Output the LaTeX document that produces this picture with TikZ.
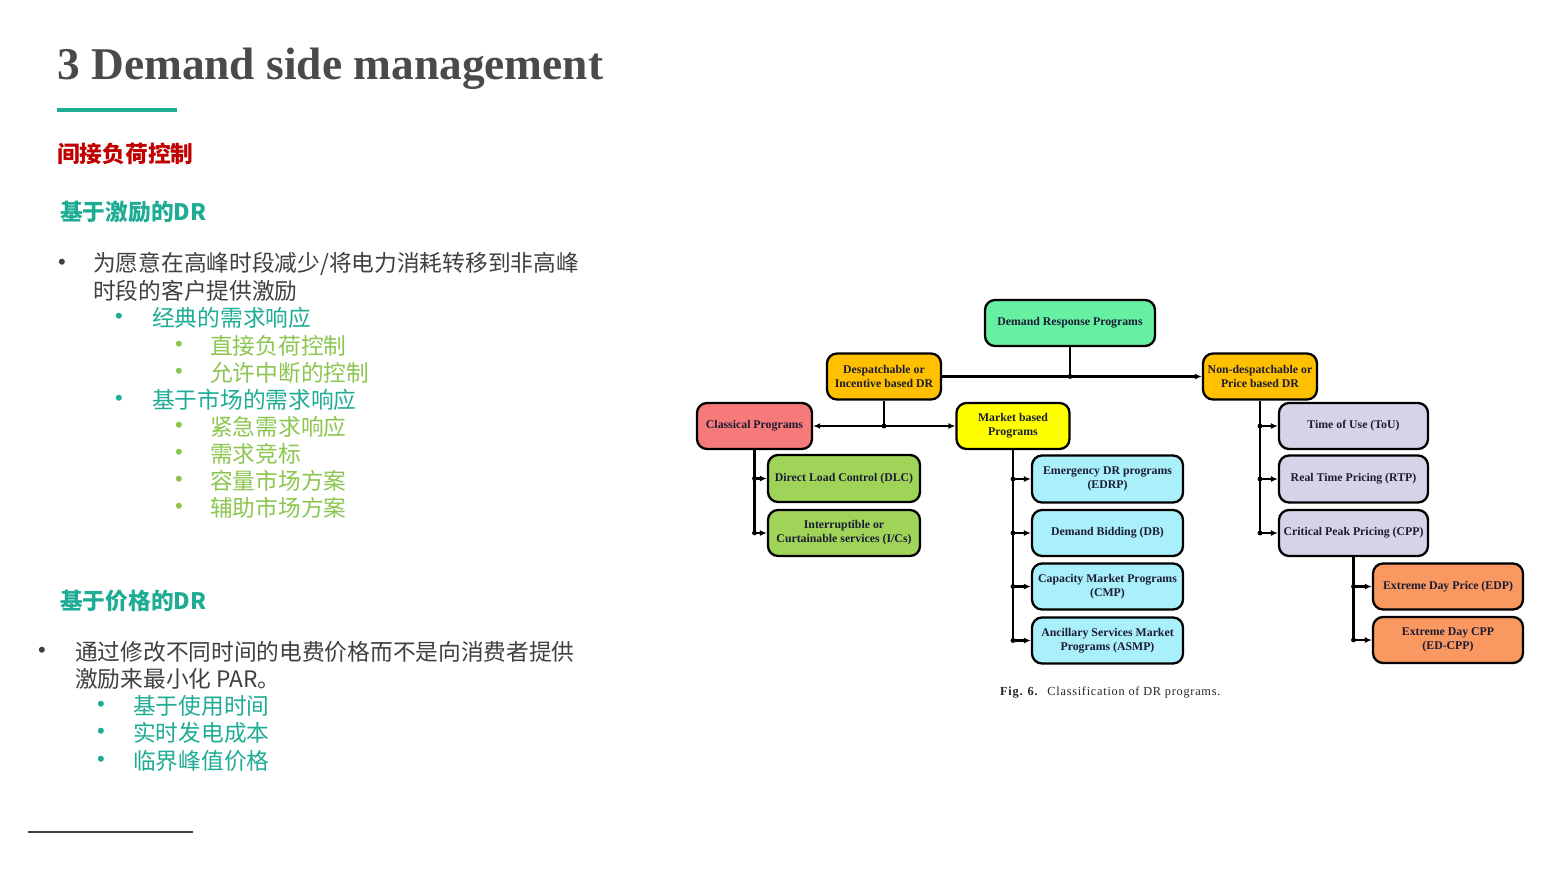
\documentclass[tikz,border=0pt]{standalone}
\usepackage{fontspec}
\setmainfont{Liberation Serif}
\newfontfamily\cjk{Noto Sans CJK SC}
\newfontfamily\bulfont{Liberation Sans}
\newfontfamily\capfont[LetterSpace=6]{Liberation Serif}
\usetikzlibrary{arrows.meta}
\definecolor{titlegray}{RGB}{74,74,74}
\definecolor{bodygray}{RGB}{64,64,64}
\definecolor{darkred}{RGB}{192,0,0}
\definecolor{tealc}{RGB}{30,172,148}
\definecolor{lgreen}{RGB}{140,198,80}
\definecolor{mint}{RGB}{102,240,162}
\definecolor{amber}{RGB}{255,192,0}
\definecolor{salmon}{RGB}{247,122,122}
\definecolor{yel}{RGB}{255,255,0}
\definecolor{olive}{RGB}{160,212,88}
\definecolor{cyanl}{RGB}{170,240,250}
\definecolor{lav}{RGB}{216,210,232}
\definecolor{orangel}{RGB}{249,152,96}
\definecolor{boxtext}{RGB}{28,28,52}
\begin{document}
\begin{tikzpicture}[x=1pt,y=-1pt,
  box/.style={draw=black, line width=2.3pt, rounded corners=10pt, align=center,
    inner sep=2pt, text=boxtext, font=\fontsize{11.8}{14}\selectfont\bfseries},
  conn/.style={line width=2.1pt, draw=black},
  arr/.style={conn, -{Latex[length=7pt,width=6pt]}},
  darr/.style={conn, {Latex[length=7pt,width=6pt]}-{Latex[length=7pt,width=6pt]}},
  txt/.style={anchor=west, inner sep=0pt, font=\cjk\fontsize{22.7}{28}\selectfont},
  head/.style={txt, font=\cjk\fontsize{22.7}{28}\selectfont\bfseries},
  bul/.style={anchor=center, inner sep=0pt, font=\bulfont\fontsize{22}{24}\selectfont}
]
\useasboundingbox (0,0) rectangle (1560,878);
\fill[white] (0,0) rectangle (1560,878);

% ---- title ----
\node[anchor=base west, inner sep=0pt, text=titlegray,
  font=\fontsize{45.4}{50}\selectfont\bfseries] (title) at (57,79) {3 Demand side management};
\fill[tealc] (57,108) rectangle (177,112);

% ---- left text ----
\node[head, text=darkred] (h1) at (57,154) {间接负荷控制};
\node[head, text=tealc] (h2) at (60,212) {基于激励的DR};

\node[bul, text=bodygray] (b1) at (62,264) {•};
\node[txt, text=bodygray] (t1) at (93,264) {为愿意在高峰时段减少/将电力消耗转移到非高峰};
\node[txt, text=bodygray] (t1b) at (93,291) {时段的客户提供激励};

\node[bul, text=tealc] (b2) at (119,318) {•};
\node[txt, text=tealc] (t2) at (152,318) {经典的需求响应};
\node[bul, text=lgreen] (b3) at (179,346) {•};
\node[txt, text=lgreen] (t3) at (210,346) {直接负荷控制};
\node[bul, text=lgreen] (b4) at (179,373) {•};
\node[txt, text=lgreen] (t4) at (210,373) {允许中断的控制};
\node[bul, text=tealc] (b5) at (119,400) {•};
\node[txt, text=tealc] (t5) at (152,400) {基于市场的需求响应};
\node[bul, text=lgreen] (b6) at (179,427) {•};
\node[txt, text=lgreen] (t6) at (210,427) {紧急需求响应};
\node[bul, text=lgreen] (b7) at (179,454) {•};
\node[txt, text=lgreen] (t7) at (210,454) {需求竞标};
\node[bul, text=lgreen] (b8) at (179,481) {•};
\node[txt, text=lgreen] (t8) at (210,481) {容量市场方案};
\node[bul, text=lgreen] (b9) at (179,508) {•};
\node[txt, text=lgreen] (t9) at (210,508) {辅助市场方案};

\node[head, text=tealc] (h3) at (60,601) {基于价格的DR};
\node[bul, text=bodygray] (b10) at (42,652) {•};
\node[txt, text=bodygray] (t10) at (75,652) {通过修改不同时间的电费价格而不是向消费者提供};
\node[txt, text=bodygray] (t10b) at (75,679) {激励来最小化 PAR。};
\node[bul, text=tealc] (b11) at (101,706) {•};
\node[txt, text=tealc] (t11) at (133,706) {基于使用时间};
\node[bul, text=tealc] (b12) at (101,733) {•};
\node[txt, text=tealc] (t12) at (133,733) {实时发电成本};
\node[bul, text=tealc] (b13) at (101,761) {•};
\node[txt, text=tealc] (t13) at (133,761) {临界峰值价格};

\draw[line width=2pt, draw=bodygray] (28,832) -- (193,832);

% ---- diagram ----
\node[box, fill=mint, minimum width=170pt, minimum height=46pt] (drp) at (1070,323) {Demand Response Programs};
\node[box, fill=amber, minimum width=114pt, minimum height=46pt] (desp) at (884,376.5) {Despatchable or\\Incentive based DR};
\node[box, fill=amber, minimum width=114pt, minimum height=46pt] (nd) at (1260,376.5) {Non-despatchable or\\Price based DR};
\node[box, fill=salmon, minimum width=115pt, minimum height=46pt] (cls) at (754.5,426) {Classical Programs};
\node[box, fill=yel, minimum width=113pt, minimum height=46pt] (mkt) at (1013,426) {Market based\\Programs};

\node[box, fill=olive, minimum width=152pt, minimum height=47pt] (dlc) at (844,478.5) {Direct Load Control (DLC)};
\node[box, fill=olive, minimum width=152pt, minimum height=46pt] (ics) at (844,533) {Interruptible or\\Curtainable services (I/Cs)};

\node[box, fill=cyanl, minimum width=151pt, minimum height=47pt] (edrp) at (1107.5,479) {Emergency DR programs\\(EDRP)};
\node[box, fill=cyanl, minimum width=151pt, minimum height=46pt] (db) at (1107.5,533) {Demand Bidding (DB)};
\node[box, fill=cyanl, minimum width=151pt, minimum height=46pt] (cmp) at (1107.5,586.5) {Capacity Market Programs\\(CMP)};
\node[box, fill=cyanl, minimum width=151pt, minimum height=46pt] (asmp) at (1107.5,640.5) {Ancillary Services Market\\Programs (ASMP)};

\node[box, fill=lav, minimum width=149pt, minimum height=46pt] (tou) at (1353.5,426) {Time of Use (ToU)};
\node[box, fill=lav, minimum width=149pt, minimum height=47pt] (rtp) at (1353.5,479) {Real Time Pricing (RTP)};
\node[box, fill=lav, minimum width=149pt, minimum height=46pt] (cpp) at (1353.5,533) {Critical Peak Pricing (CPP)};

\node[box, fill=orangel, minimum width=150pt, minimum height=46pt] (edp) at (1448,586.5) {Extreme Day Price (EDP)};
\node[box, fill=orangel, minimum width=150pt, minimum height=46pt] (edcpp) at (1448,640) {Extreme Day CPP\\(ED-CPP)};

% junctions
\coordinate (j1) at (drp.south |- desp.east);
\coordinate (j2) at (desp.south |- cls.east);

\draw[conn] (drp.south) -- (j1);
\draw[arr] (desp.east) -- (nd.west);
\fill (j1) circle (2.4pt);

\draw[conn] (desp.south) -- (j2);
\draw[darr] (cls.east) -- (mkt.west);
\fill (j2) circle (2.4pt);

% classical branches
\draw[conn] (cls.south) -- (cls.south |- ics.west);
\draw[arr] (cls.south |- dlc.west) -- (dlc.west);
\draw[arr] (cls.south |- ics.west) -- (ics.west);
\fill (cls.south |- dlc.west) circle (2.4pt);
\fill (cls.south |- ics.west) circle (2.4pt);

% market branches
\draw[conn] (mkt.south) -- (mkt.south |- asmp.west);
\foreach \n in {edrp,db,cmp,asmp}{
  \draw[arr] (mkt.south |- \n.west) -- (\n.west);
  \fill (mkt.south |- \n.west) circle (2.4pt);
}

% price based branches
\draw[conn] (nd.south) -- (nd.south |- cpp.west);
\foreach \n in {tou,rtp,cpp}{
  \draw[arr] (nd.south |- \n.west) -- (\n.west);
  \fill (nd.south |- \n.west) circle (2.4pt);
}

% CPP branches
\draw[conn] (cpp.south) -- (cpp.south |- edcpp.west);
\foreach \n in {edp,edcpp}{
  \draw[arr] (cpp.south |- \n.west) -- (\n.west);
  \fill (cpp.south |- \n.west) circle (2.4pt);
}

\node[anchor=west, inner sep=0pt, text=black!85, font=\capfont\fontsize{12.3}{14}\selectfont] (cap) at (1000,693)
  {\textbf{Fig. 6.}\hspace{4pt} Classification of DR programs.};
\end{tikzpicture}
\end{document}
